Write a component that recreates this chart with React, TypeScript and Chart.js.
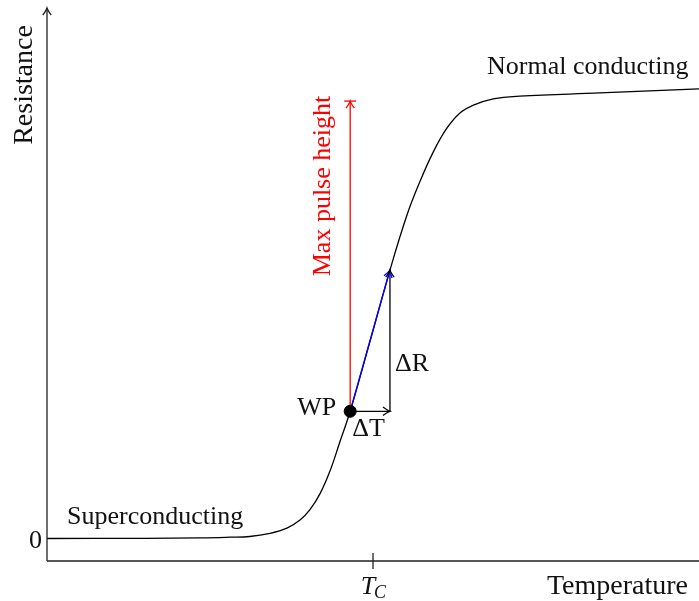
import { useEffect, useRef } from "react";
import { Chart, registerables } from "chart.js";

Chart.register(...registerables);

// Transition curve: resistance vs temperature (arbitrary units)
const temperature = [0, 15, 23.5, 28.1, 31.1, 34.2, 36.8, 38.8, 40.3, 41.9, 43.4, 44.9, 46.5, 49.6, 52.6, 55.2, 57.2, 59.25, 61.3, 63.3, 65.4, 68.45, 72.5, 84.8, 100];
const resistance = [0, 0.05, 0.15, 0.3, 0.45, 1.15, 2.3, 4.1, 6.35, 10.05, 15.0, 21.4, 28.3, 44.2, 59.7, 71.9, 79.4, 86.0, 91.2, 94.6, 96.4, 97.8, 98.4, 99.1, 100];

// Working point and step
const wpT = 46.5;
const wpR = 28.3;
const stepT = 52.6;
const stepR = 59.7;
const maxPulseR = 97.3;
const tcT = 50;

const xRange = [0, 100];
const yRange = [-5, 118];

const FONT = '"Liberation Serif", "Times New Roman", serif';

function arrowHead(ctx: CanvasRenderingContext2D, x: number, y: number, angle: number, color: string, size = 7) {
  ctx.save();
  ctx.translate(x, y);
  ctx.rotate(angle);
  ctx.strokeStyle = color;
  ctx.lineWidth = 1.3;
  ctx.beginPath();
  ctx.moveTo(-size, -size * 0.6);
  ctx.quadraticCurveTo(-size * 0.35, -size * 0.1, 0, 0);
  ctx.quadraticCurveTo(-size * 0.35, size * 0.1, -size, size * 0.6);
  ctx.stroke();
  ctx.restore();
}

const annotPlugin = {
  id: "annot",
  afterDatasetsDraw(chart: any) {
    const { ctx, chartArea, scales } = chart;
    const xs = scales.x;
    const ys = scales.y;
    const { left, right, top, bottom } = chartArea;
    ctx.save();
    // axes
    ctx.strokeStyle = "#222";
    ctx.lineWidth = 1.3;
    ctx.beginPath();
    ctx.moveTo(left, bottom);
    ctx.lineTo(left, top);
    ctx.moveTo(left, bottom);
    ctx.lineTo(right, bottom);
    ctx.stroke();
    arrowHead(ctx, left, top, -Math.PI / 2, "#222");
    // T_C tick
    const tcX = xs.getPixelForValue(tcT);
    ctx.beginPath();
    ctx.moveTo(tcX, bottom - 8);
    ctx.lineTo(tcX, bottom + 8);
    ctx.stroke();

    const wpX = xs.getPixelForValue(wpT);
    const wpY = ys.getPixelForValue(wpR);
    const sX = xs.getPixelForValue(stepT);
    const sY = ys.getPixelForValue(stepR);
    const mY = ys.getPixelForValue(maxPulseR);
    const y0 = ys.getPixelForValue(0);

    // arrowheads
    arrowHead(ctx, wpX, mY, -Math.PI / 2, "red");
    ctx.strokeStyle = "red";
    ctx.beginPath();
    ctx.moveTo(wpX - 6, mY);
    ctx.lineTo(wpX + 6, mY);
    ctx.stroke();
    arrowHead(ctx, sX, sY, Math.atan2(sY - wpY, sX - wpX), "blue");
    arrowHead(ctx, sX, sY, -Math.PI / 2, "black");
    arrowHead(ctx, sX, wpY, 0, "black");

    // texts
    ctx.fillStyle = "#111";
    ctx.font = `26px ${FONT}`;
    ctx.textBaseline = "alphabetic";
    ctx.textAlign = "left";
    ctx.fillText("Superconducting", 67, y0 - 15);
    ctx.fillText("Normal conducting", 487, 74);
    ctx.textAlign = "right";
    ctx.fillText("WP", wpX - 14, wpY + 4);
    ctx.fillText("0", left - 5, y0 + 9);
    ctx.textAlign = "left";
    ctx.fillText("\u0394T", wpX + 2, wpY + 25);
    ctx.fillText("\u0394R", sX + 5, wpY - 40);

    // x axis labels
    ctx.font = `28px ${FONT}`;
    ctx.textAlign = "right";
    ctx.fillText("Temperature", right - 11, bottom + 33);
    ctx.font = `italic 26px ${FONT}`;
    ctx.textAlign = "center";
    ctx.fillText("T", tcX - 5, bottom + 33);
    ctx.font = `italic 18px ${FONT}`;
    ctx.fillText("C", tcX + 7, bottom + 37);

    // rotated
    ctx.save();
    ctx.translate(32, 85);
    ctx.rotate(-Math.PI / 2);
    ctx.font = `28px ${FONT}`;
    ctx.textAlign = "center";
    ctx.fillText("Resistance", 0, 0);
    ctx.restore();

    ctx.save();
    ctx.translate(330, 186);
    ctx.rotate(-Math.PI / 2);
    ctx.font = `26px ${FONT}`;
    ctx.fillStyle = "red";
    ctx.textAlign = "center";
    ctx.fillText("Max pulse height", 0, 0);
    ctx.restore();

    ctx.restore();
  },
};

export default function App() {
  const ref = useRef<HTMLCanvasElement>(null);
  useEffect(() => {
    document.body.style.margin = "0";
    const curve = temperature.map((t, i) => ({ x: t, y: resistance[i] }));
    const chart = new Chart(ref.current!, {
      type: "scatter",
      data: {
        datasets: [
          {
            label: "WP",
            data: [{ x: wpT, y: wpR }],
            pointRadius: 6,
            pointBackgroundColor: "black",
            pointBorderColor: "black",
            showLine: false,
            order: 0,
          },
          {
            label: "slope",
            data: [{ x: wpT, y: wpR }, { x: stepT, y: stepR }],
            borderColor: "blue",
            borderWidth: 1.4,
            pointRadius: 0,
            showLine: true,
            order: 1,
          },
          {
            label: "dT",
            data: [{ x: wpT, y: wpR }, { x: stepT, y: wpR }],
            borderColor: "black",
            borderWidth: 1.3,
            pointRadius: 0,
            showLine: true,
            order: 2,
          },
          {
            label: "dR",
            data: [{ x: stepT, y: wpR }, { x: stepT, y: stepR }],
            borderColor: "black",
            borderWidth: 1.3,
            pointRadius: 0,
            showLine: true,
            order: 2,
          },
          {
            label: "max pulse",
            data: [{ x: wpT, y: wpR }, { x: wpT, y: maxPulseR }],
            borderColor: "red",
            borderWidth: 1.3,
            pointRadius: 0,
            showLine: true,
            order: 3,
          },
          {
            label: "R(T)",
            data: curve,
            borderColor: "black",
            borderWidth: 1.3,
            pointRadius: 0,
            showLine: true,
            tension: 0.4,
            order: 4,
          },
        ],
      },
      options: {
        animation: false,
        responsive: false,
        events: [],
        layout: { autoPadding: false, padding: { left: 47, right: 0, top: 8, bottom: 40 } },
        plugins: { legend: { display: false }, tooltip: { enabled: false } },
        scales: {
          x: { type: "linear", min: xRange[0], max: xRange[1], display: false },
          y: { type: "linear", min: yRange[0], max: yRange[1], display: false },
        },
      } as any,
      plugins: [annotPlugin],
    });
    return () => chart.destroy();
  }, []);
  return (
    <div style={{ position: "absolute", left: 0, top: 0, width: 699, height: 601, background: "white" }}>
      <canvas ref={ref} width={699} height={601} style={{ width: 699, height: 601 }} />
    </div>
  );
}
